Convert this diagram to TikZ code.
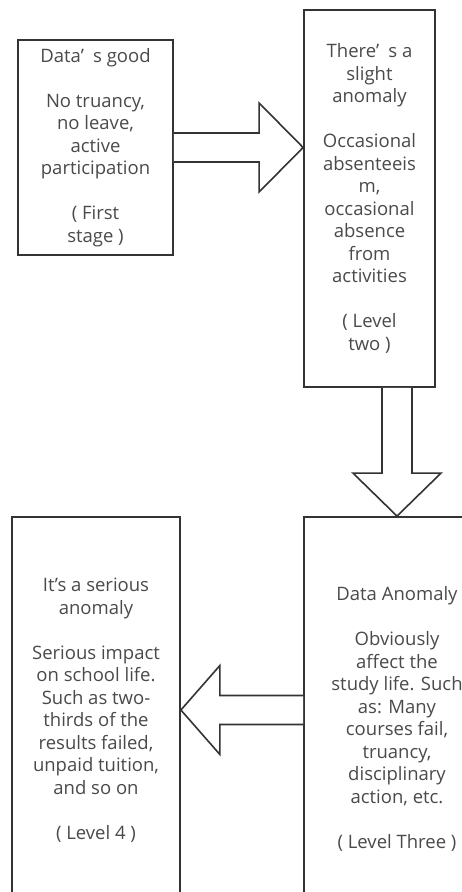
\documentclass[tikz,border=0pt]{standalone}
\usepackage{fontspec}
\setmainfont{Open Sans}
\usetikzlibrary{calc}
\definecolor{linec}{HTML}{333333}
\definecolor{textc}{HTML}{4A4A4A}
\tikzset{
  stagebox/.style={draw=linec, line width=1.8pt, fill=white, inner sep=0pt, align=center,
    text=textc, font=\fontsize{18.5}{22.5}\selectfont},
  blockarrow/.style={draw=linec, line width=1.6pt, fill=white, line join=miter}
}
\begin{document}
\begin{tikzpicture}[x=1pt, y=-1pt]
\useasboundingbox (0,0) rectangle (462,892);
\clip (0,0) rectangle (462,892);
\fill[white] (0,0) rectangle (462,892);

\node[stagebox, minimum width=155pt, minimum height=215pt] (b1) at (95.5,147.5)
  {Data’\hspace{0.5em}s good\\[22.5pt]No truancy,\\no leave,\\active\\participation\\[22.5pt]( First\\stage )};
\node[stagebox, minimum width=131pt, minimum height=377pt] (b2) at (369.5,198.5)
  {There’\hspace{0.5em}s a\\slight\\anomaly\\[22.5pt]Occasional\\absenteeis\\m,\\occasional\\absence\\from\\activities\\[22.5pt]( Level\\two )};
\node[stagebox, minimum width=186pt, minimum height=404pt] (b3) at (397,719)
  {Data Anomaly\\[22.5pt]Obviously\\affect the\\study life. Such\\as: Many\\courses fail,\\truancy,\\disciplinary\\action, etc.\\[22.5pt]( Level Three )};
\node[stagebox, minimum width=168pt, minimum height=386pt] (b4) at (96,710)
  {It's a serious\\anomaly\\[22.5pt]Serious impact\\on school life.\\Such as two-\\thirds of the\\results failed,\\unpaid tuition,\\and so on\\[22.5pt]( Level 4 )};

% arrow 1: b1 -> b2
\coordinate (a1s) at (b1.east);
\coordinate (a1t) at (b2.west |- b1.east);
\draw[blockarrow] ($(a1s)+(0,-14.5)$) -- ($(a1t)+(-44,-14.5)$) -- ($(a1t)+(-44,-44.5)$)
  -- (a1t) -- ($(a1t)+(-44,44.5)$) -- ($(a1t)+(-44,14.5)$) -- ($(a1s)+(0,14.5)$);

% arrow 2: b2 -> b3
\coordinate (a2s) at (b3.north |- b2.south);
\coordinate (a2t) at (b3.north);
\draw[blockarrow] ($(a2s)+(-15,0)$) -- ($(a2t)+(-15,-43)$) -- ($(a2t)+(-44,-43)$)
  -- (a2t) -- ($(a2t)+(44,-43)$) -- ($(a2t)+(15,-43)$) -- ($(a2s)+(15,0)$);

% arrow 3: b3 -> b4
\coordinate (a3s) at (b3.west |- b4.east);
\coordinate (a3t) at (b4.east);
\draw[blockarrow] ($(a3s)+(0,-14.5)$) -- ($(a3t)+(39,-14.5)$) -- ($(a3t)+(39,-44.5)$)
  -- (a3t) -- ($(a3t)+(39,44.5)$) -- ($(a3t)+(39,14.5)$) -- ($(a3s)+(0,14.5)$);
\end{tikzpicture}
\end{document}
